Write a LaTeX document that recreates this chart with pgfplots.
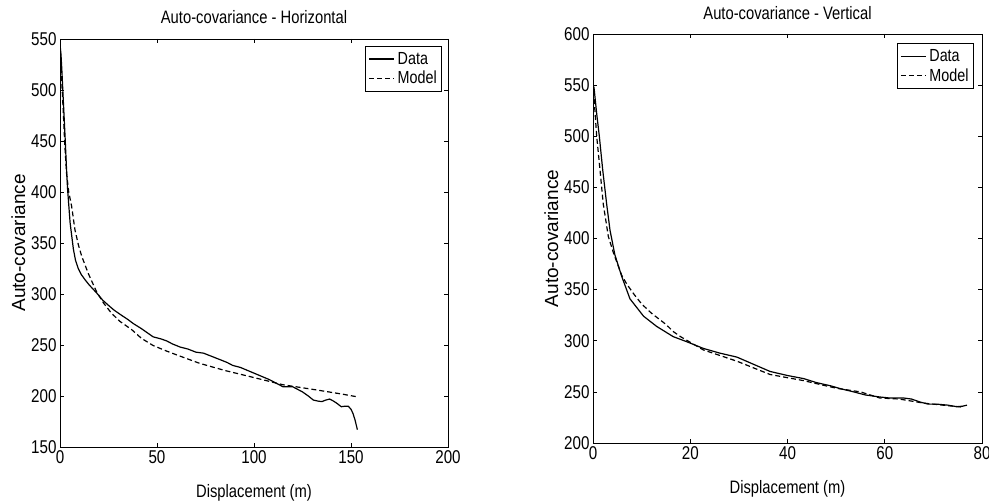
\documentclass[border=0pt]{standalone}
\usepackage{fontspec}
\setmainfont{Liberation Sans}[FakeStretch=0.82]
\newfontfamily\ylfont{Liberation Sans}
\usepackage{pgfplots}
\pgfplotsset{compat=1.18}
\newcommand\tfont{\fontsize{18.5bp}{21bp}\selectfont}
\newcommand\lfont{\fontsize{17.5bp}{20bp}\selectfont}
\pgfplotsset{
  mystyle/.style={
    scale only axis,
    anchor=south west,
    axis line style={line width=0.8bp},
    every tick/.style={line width=0.7bp,black},
    major tick length=4bp,
    tick align=inside,
    tick pos=both,
    /pgf/number format/assume math mode=true,
    tick label style={font=\tfont},
    every axis title/.style={at={([yshift=15bp]axis description cs:0.5,1)}, anchor=base, font=\fontsize{18bp}{21bp}\selectfont},
    every axis x label/.style={at={([yshift=-50bp]axis description cs:0.5,0)}, anchor=base, font=\fontsize{18bp}{21bp}\selectfont},
    every axis y label/.style={at={([xshift=-35bp]axis description cs:0,0.5)}, rotate=90, anchor=base, font=\ylfont\fontsize{19bp}{22bp}\selectfont},
    xlabel={Displacement (m)},
    ylabel={Auto-covariance},
    legend image code/.code={\draw[#1] (0bp,0bp) -- (25bp,0bp);},
    legend style={anchor=north east, draw=black, line width=0.7bp, fill=white, font=\lfont,
      inner xsep=3bp, inner ysep=4bp, nodes={inner sep=2bp}, column sep=1bp, row sep=1.5bp,
      cells={anchor=west}},
    datastyle/.style={black, line width=1.2bp},
    modelstyle/.style={black, line width=1.2bp, dash pattern=on 5bp off 3bp},
  }
}
\begin{document}
\begin{tikzpicture}
\path[use as bounding box] (0,0) rectangle (989bp,504bp);
% ---------------- Left: Horizontal ----------------
\begin{axis}[mystyle,
  at={(60bp,57bp)}, width=388bp, height=408bp,
  xmin=0, xmax=200, ymin=150, ymax=550,
  xtick={0,50,100,150,200}, ytick={150,200,250,300,350,400,450,500,550},
  title={Auto-covariance - Horizontal},
  legend style={at={(0.985,0.983)}},
]
\addplot[datastyle] coordinates {
(0,545) (0.5,535) (1,518) (1.7,490) (2.6,455) (3.3,425) (3.9,403) (5.2,370) (6.9,344)
(8,333) (9.4,325) (11,319) (12.9,314) (15,309) (18.9,301) (22,294) (24.9,289) (28,284)
(31.8,279) (35,275) (37.8,271) (42,266) (45,262) (48,258) (52,256) (55,254) (58,251)
(61.9,248) (66,246) (70,243) (74,242) (78,239) (82,236) (86,233) (89,230) (93,228)
(98,224) (103,220) (108,216) (112,212) (115,209) (120,209) (125,204) (128,200)
(130.6,196) (133,195) (135,194.5) (137,196) (139,197) (141,195) (142.6,193) (145,189.5)
(147,190) (148.6,190) (150,187) (151,183) (152,177) (153.3,167)
};
\addlegendentry{Data}
\addplot[modelstyle] coordinates {
(0,545) (0.5,525) (1,505) (1.7,478) (2.5,445) (3.4,418) (4.5,400) (6,386) (7.7,363)
(9.5,348) (11.2,337) (14.6,320) (18.9,302) (22.5,291) (26.6,281) (31,273) (37,265)
(42,256.5) (48,249.5) (55,244) (62,239) (72,232) (85,225) (98,219) (115,211) (132,206)
(145,202) (153.8,199)
};
\addlegendentry{Model}
\end{axis}
% ---------------- Right: Vertical ----------------
\begin{axis}[mystyle,
  at={(593bp,61bp)}, width=389bp, height=409bp,
  xmin=0, xmax=80, ymin=200, ymax=600,
  xtick={0,20,40,60,80}, ytick={200,250,300,350,400,450,500,550,600},
  title={Auto-covariance - Vertical},
  legend style={at={(0.979,0.978)}},
]
\addplot[datastyle] coordinates {
(0,548) (0.2,548) (0.76,522) (1.3,500) (2.0,467) (2.8,434) (3.5,408) (4.5,384) (5.9,363)
(7.6,341) (10.4,324) (13.1,314) (16.5,304) (19.3,299) (22.7,292.5) (26,288) (29.6,284)
(33,277) (36.4,270) (40,266) (43.3,263) (46,259) (48.8,256) (51,253) (53.6,250) (56,247)
(59,245) (61,244) (63.9,244) (65.5,243) (67.3,240) (69,238) (70.7,238) (73,237)
(74.8,235.5) (76,236) (76.9,237)
};
\addlegendentry{Data}
\addplot[modelstyle] coordinates {
(0,552) (0.76,500) (1.44,467) (2.1,434) (3.15,402) (4.2,386) (5.9,364) (7,355) (8.5,345)
(10,336) (12,327) (15,316) (16.5,309) (18,304) (22.7,291) (29.6,280) (36.4,267)
(43.3,261) (50.1,253.5) (55,250) (59,244) (63,243) (68,239) (72,237) (76.2,235)
};
\addlegendentry{Model}
\end{axis}
\end{tikzpicture}
\end{document}
